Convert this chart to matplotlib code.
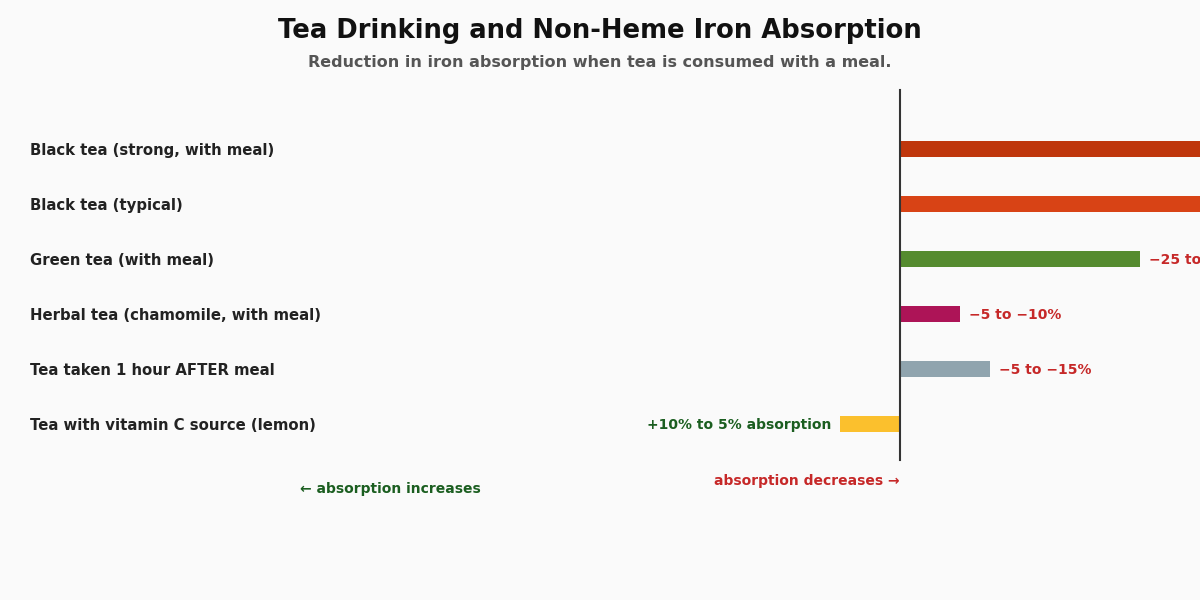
import numpy as np
import matplotlib.pyplot as plt

# data
categories = ['Black tea (strong, with meal)', 'Black tea (typical)', 'Green tea (with meal)',
              'Herbal tea (chamomile, with meal)', 'Tea taken 1 hour AFTER meal',
              'Tea with vitamin C source (lemon)']
reduction = [90, 70, 40, 10, 15, -10]  # % reduction (negative = increase)
labels = ['\u221270 to \u221290%', '\u221260 to \u221270%', '\u221225 to \u221240%',
          '\u22125 to \u221210%', '\u22125 to \u221215%', '+10% to 5% absorption']
colors = ['#bf360c', '#d84315', '#558b2f', '#ad1457', '#90a4ae', '#fbc02d']

bg = '#fafafa'
red = '#c62828'
green = '#1b5e20'

fig = plt.figure(figsize=(12, 6), dpi=100, facecolor=bg)
ax = fig.add_axes([0, 0, 1, 1])
ax.set_facecolor(bg)
ax.set_xlim(-150, 50)
ax.set_ylim(8.2, -2.709)
ax.axis('off')

y = np.arange(len(categories))
ax.barh(y, reduction, height=0.29, color=colors, zorder=2)
ax.plot([0, 0], [-1.07, 5.65], color='#333333', lw=1.5, zorder=3)

for i, (cat, v, lab) in enumerate(zip(categories, reduction, labels)):
    ax.text(-145, i + 0.02, cat, ha='left', va='center', fontsize=10.7,
            fontweight='bold', color='#222222')
    if v >= 0:
        ax.text(v + 1.5, i + 0.02, lab, ha='left', va='center', fontsize=10,
                fontweight='bold', color=red)
    else:
        ax.text(v - 1.5, i + 0.02, lab, ha='right', va='center', fontsize=10,
                fontweight='bold', color=green)

ax.text(0, 6.03, 'absorption decreases \u2192', ha='right', va='center',
        fontsize=10, fontweight='bold', color=red)
ax.text(-100, 6.18, '\u2190 absorption increases', ha='left', va='center',
        fontsize=10, fontweight='bold', color=green)

fig.text(0.5, 1 - 31 / 600, 'Tea Drinking and Non-Heme Iron Absorption',
         ha='center', va='center', fontsize=18.6, fontweight='bold', color='#111111')
fig.text(0.5, 1 - 63 / 600, 'Reduction in iron absorption when tea is consumed with a meal.',
         ha='center', va='center', fontsize=11.5, fontweight='bold', color='#555555')

fig.savefig('out.png', dpi=100, facecolor=bg)
